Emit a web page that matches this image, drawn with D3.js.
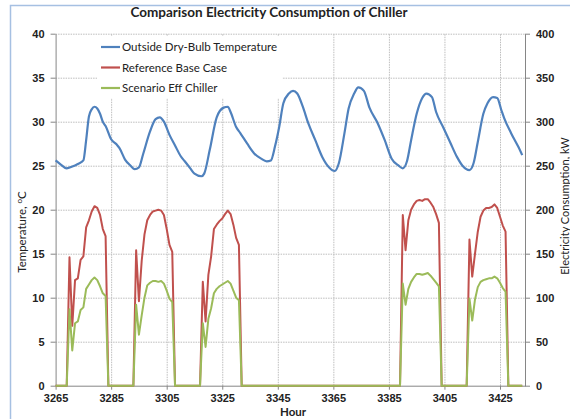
<!DOCTYPE html>
<html>
  <head>
    <meta charset="UTF-8">
    <title>Comparison Electricity Consumption of Chiller</title>
    <script src="https://cdn.jsdelivr.net/npm/d3@7"></script>
    <style>
      body, html { margin:0; padding:0; background:#fff; }
      svg { font-family: Lato, "Open Sans", sans-serif; }
      .grid line { stroke: #bdbdbd; stroke-dasharray: 1.5,1; }
      .grid path { display: none; }
      .axis path, .axis line { stroke: #868686; }
      .axis text { font-size: 11px; font-weight: bold; fill: #222; }
    </style>
  </head>
  <body>
<div id="chart"></div>
<script type="text/javascript">

// hour ticks on the category axis
var hourTicks = [3265, 3285, 3305, 3325, 3345, 3365, 3385, 3405, 3425];
var tempTicks = [0, 5, 10, 15, 20, 25, 30, 35, 40];
var kwTicks   = [0, 50, 100, 150, 200, 250, 300, 350, 400];

var seriesNames = ['Outside Dry-Bulb Temperature', 'Reference Base Case', 'Scenario Eff Chiller'];

// [hour, degC]
var tempPts = [
  [3265,25.6],[3267,25.1],[3269,24.7],[3271,24.9],[3273,25.2],[3275,25.6],[3276,27.9],[3277,30.6],
  [3278,31.4],[3279,31.7],[3280,31.5],[3281,30.9],[3282,30.0],[3283,29.5],[3285,28.0],[3287,27.4],
  [3288,27.0],[3290,25.7],[3292,25.0],[3293.5,24.6],[3295,24.8],[3296.5,26.3],[3299,28.9],[3301,30.3],
  [3302.5,30.5],[3304,30.0],[3306,28.5],[3308,27.3],[3310,26.1],[3311.5,25.5],[3313.5,24.7],[3315,24.1],
  [3317.5,23.8],[3318.5,24.1],[3320.5,26.8],[3323,30.5],[3325.5,31.6],[3327,31.7],[3328,31.1],[3330,29.4],
  [3331.5,28.7],[3334,27.5],[3336.5,26.4],[3339,25.8],[3341,25.5],[3342.5,25.6],[3344,27.2],[3345.5,29.4],
  [3347,32.1],[3349,33.2],[3350.5,33.5],[3352,33.2],[3354,31.7],[3356,29.8],[3358.5,27.9],[3361,26.0],
  [3363.5,24.8],[3365.5,24.4],[3367,25.3],[3369,28.7],[3370.5,31.5],[3372.5,33.2],[3374,33.9],[3376,33.5],
  [3378,31.6],[3381,29.8],[3383.5,27.9],[3386,25.8],[3388.5,25.0],[3390,24.7],[3391.5,25.5],[3393,27.9],
  [3395,30.9],[3397,32.7],[3398.5,33.2],[3400.5,32.8],[3402,31.1],[3404.5,29.4],[3407,27.7],[3409.5,26.0],
  [3411.5,25.0],[3414,24.5],[3415.5,25.3],[3417,27.7],[3419,30.9],[3420.5,32.1],[3422.5,32.8],[3424,32.7],
  [3425.5,31.3],[3426.5,30.4],[3429,28.7],[3431.5,27.2],[3433,26.2]
];

// [hour, kW]
var baseCasePts = [
  [3265,0],[3269,0],[3270,146],[3271,68],[3272,120],[3273,122],[3274,143],[3275,147],[3276,180],[3277,188],
  [3278,198],[3279,204],[3280,202],[3281,194],[3282,178],[3283,170],[3284,0],
  [3293,0],[3294,154],[3295,96],[3296,142],[3297,172],[3298,188],[3299,194],[3300,198],[3301,199],
  [3302,200],[3303,199],[3304,194],[3305,178],[3306,160],[3307,152],[3308,0],
  [3317,0],[3318,118],[3319,73],[3320,126],[3321,147],[3322,178],[3323,183],[3324,187],[3325,190],
  [3326,195],[3327,199],[3328,195],[3329,183],[3330,168],[3331,160],[3332,0],
  [3389,0],[3390,194],[3391,154],[3392,188],[3393,200],[3394,206],[3395,210],[3396,211],[3397,210],
  [3398,212],[3399,212],[3400,208],[3401,203],[3402,195],[3403,185],[3404,0],
  [3413,0],[3414,166],[3415,124],[3416,150],[3417,175],[3418,192],[3419,199],[3420,202],[3421,202],
  [3422,203],[3423,206],[3424,202],[3425,192],[3426,182],[3427,175],[3428,0],[3433,0]
];

var effChillerPts = [
  [3265,0],[3269,0],[3270,87],[3271,40],[3272,71],[3273,73],[3274,86],[3275,89],[3276,110],[3277,115],
  [3278,120],[3279,123],[3280,120],[3281,113],[3282,105],[3283,102],[3284,0],
  [3293,0],[3294,92],[3295,58],[3296,80],[3297,100],[3298,114],[3299,117],[3300,119],[3301,119],
  [3302,118],[3303,119],[3304,116],[3305,108],[3306,99],[3307,95],[3308,0],
  [3317,0],[3318,71],[3319,44],[3320,76],[3321,88],[3322,105],[3323,110],[3324,113],[3325,115],
  [3326,117],[3327,119],[3328,116],[3329,108],[3330,100],[3331,97],[3332,0],
  [3389,0],[3390,116],[3391,92],[3392,110],[3393,118],[3394,123],[3395,127],[3396,127],[3397,126],
  [3398,127],[3399,128],[3400,125],[3401,121],[3402,117],[3403,113],[3404,0],
  [3413,0],[3414,99],[3415,74],[3416,98],[3417,112],[3418,118],[3419,120],[3420,121],[3421,122],
  [3422,122],[3423,124],[3424,122],[3425,117],[3426,111],[3427,107],[3428,0],[3433,0]
];

var colors = ['#4f81bd', '#c0504d', '#9bbb59'];

var W = 570, H = 419;
var svg = d3.select('#chart').append('svg').attr('width', W).attr('height', H);

// chart frame
svg.append('rect').attr('x', 10.5).attr('y', 5.5).attr('width', W).attr('height', H)
   .attr('fill', 'none').attr('stroke', '#a6c0e2').attr('stroke-width', 1.5);

var x = d3.scaleLinear().domain([3265, 3434]).range([55.6, 525]);
var yL = d3.scaleLinear().domain([0, 40]).range([385.7, 33.7]);
var yR = d3.scaleLinear().domain([0, 400]).range([385.7, 33.7]);

// gridlines
svg.append('g').attr('class', 'grid')
   .attr('transform', 'translate(55.6,0)')
   .call(d3.axisLeft(yL).tickValues(tempTicks.slice(1)).tickSize(-(525 - 55.6)).tickFormat(''));
svg.append('g').attr('class', 'grid')
   .attr('transform', 'translate(0,385.7)')
   .call(d3.axisBottom(x).tickValues(hourTicks.slice(1)).tickSize(-(385.7 - 33.7)).tickFormat(''));

// axes
var gl = svg.append('g').attr('class', 'axis').attr('transform', 'translate(55.6,0)')
   .call(d3.axisLeft(yL).tickValues(tempTicks).tickSize(5).tickSizeOuter(0).tickPadding(6));
var gr = svg.append('g').attr('class', 'axis').attr('transform', 'translate(525,0)')
   .call(d3.axisRight(yR).tickValues(kwTicks).tickSize(5).tickSizeOuter(0).tickPadding(6));
var gb = svg.append('g').attr('class', 'axis').attr('transform', 'translate(0,385.7)')
   .call(d3.axisBottom(x).tickValues(hourTicks).tickSize(4).tickSizeOuter(0).tickPadding(5).tickFormat(d3.format('d')));

// series
var lineT = d3.line().x(function(d){ return x(d[0]); }).y(function(d){ return yL(d[1]); }).curve(d3.curveMonotoneX);
var lineK = d3.line().x(function(d){ return x(d[0]); }).y(function(d){ return yR(d[1]); });

svg.append('path').datum(tempPts).attr('d', lineT)
   .attr('fill', 'none').attr('stroke', colors[0]).attr('stroke-width', 2.2).attr('stroke-linejoin', 'round');
svg.append('path').datum(baseCasePts).attr('d', lineK)
   .attr('fill', 'none').attr('stroke', colors[1]).attr('stroke-width', 2).attr('stroke-linejoin', 'round');
svg.append('path').datum(effChillerPts).attr('d', lineK)
   .attr('fill', 'none').attr('stroke', colors[2]).attr('stroke-width', 2).attr('stroke-linejoin', 'round');

// legend
var lg = svg.append('g');
lg.append('rect').attr('x', 97).attr('y', 36).attr('width', 185).attr('height', 62).attr('fill', '#fff');
seriesNames.forEach(function(name, i) {
  var yy = 47 + i * 20.5;
  lg.append('line').attr('x1', 101).attr('x2', 120).attr('y1', yy).attr('y2', yy)
    .attr('stroke', colors[i]).attr('stroke-width', 2.2);
  lg.append('text').attr('x', 122).attr('y', yy).attr('dy', '0.35em')
    .attr('font-size', 11.5).attr('fill', '#222').text(name);
});

// titles
svg.append('text').attr('x', 269).attr('y', 17).attr('text-anchor', 'middle')
   .attr('font-size', 13.5).attr('font-weight', 'bold').attr('fill', '#222')
   .text('Comparison Electricity Consumption of Chiller');

svg.append('text').attr('x', 293).attr('y', 416).attr('text-anchor', 'middle')
   .attr('font-size', 11.5).attr('font-weight', 'bold').attr('fill', '#222').text('Hour');

var tl = svg.append('text').attr('transform', 'translate(26,232) rotate(-90)')
   .attr('text-anchor', 'middle').attr('font-size', 11.5).attr('fill', '#222');
tl.append('tspan').text('Temperature, ');
tl.append('tspan').attr('dy', -4).attr('font-size', 8).text('o');
tl.append('tspan').attr('dy', 4).text('C');

svg.append('text').attr('transform', 'translate(568.5,206) rotate(-90)')
   .attr('text-anchor', 'middle').attr('font-size', 11).attr('fill', '#222')
   .text('Electricity Consumption, kW');

</script>
  </body>
</html>
